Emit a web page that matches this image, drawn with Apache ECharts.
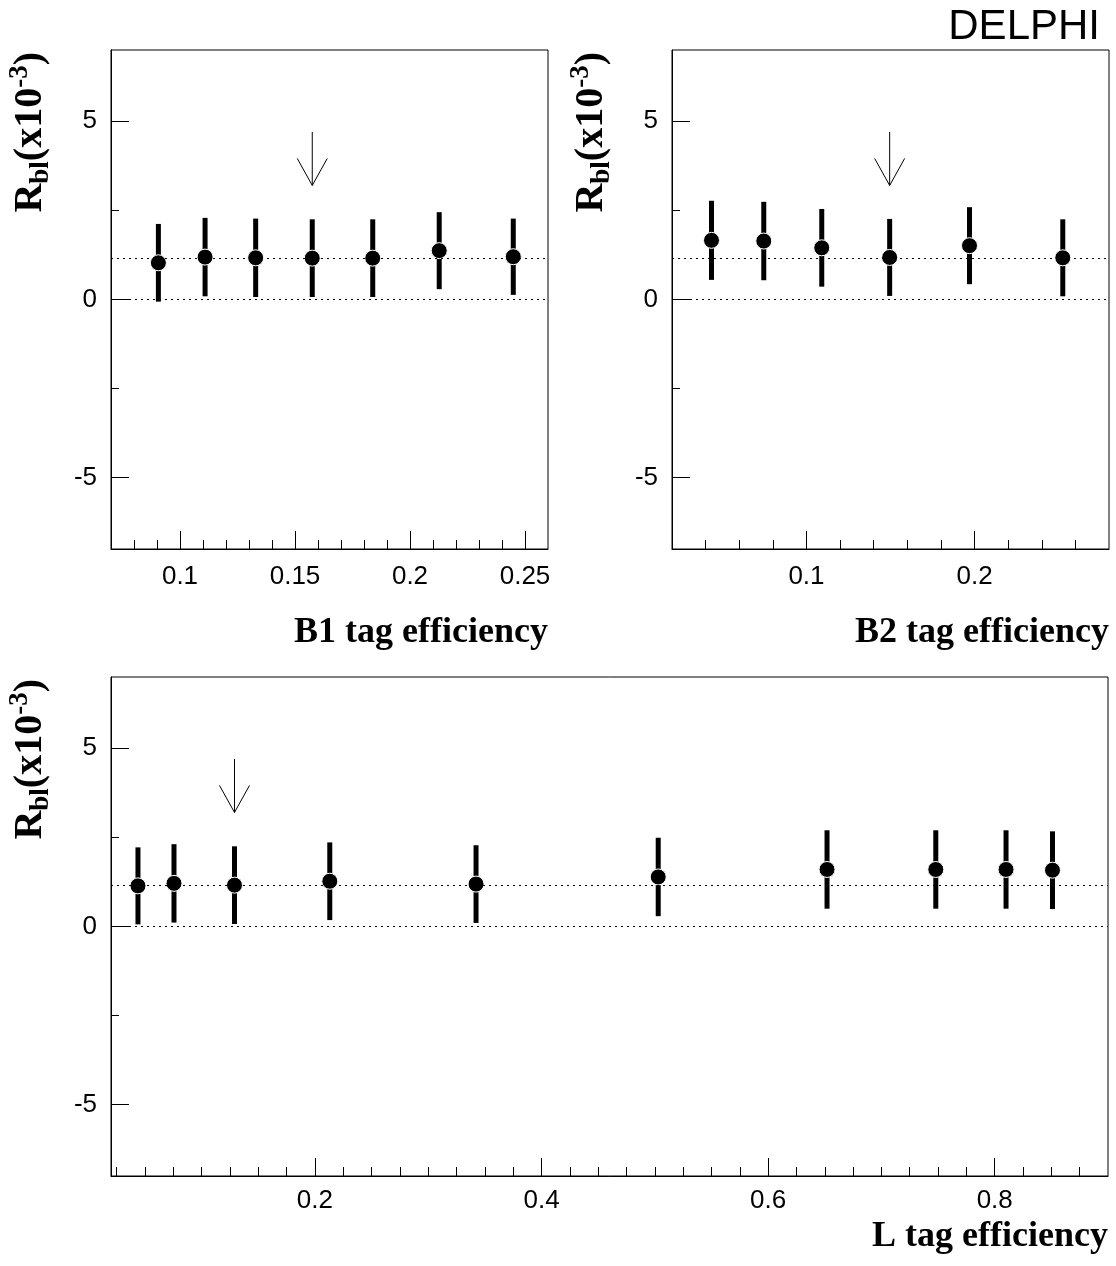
<!DOCTYPE html>
<html>
<head>
<meta charset="utf-8">
<script src="https://cdn.jsdelivr.net/npm/echarts@6/dist/echarts.min.js"></script>
<style>
  html, body { margin: 0; padding: 0; background: #fff; }
  #chart { width: 1116px; height: 1266px; }
</style>
</head>
<body>
<div id="chart"></div>
<script>
// R_bl (x10^-3) versus tag efficiency, one scan per tag type

// B1 tag
const b1Eff = [0.0906, 0.1109, 0.1329, 0.1575, 0.1838, 0.2127, 0.2449];
const b1Rbl = [1.03, 1.19, 1.17, 1.16, 1.16, 1.37, 1.20];
const b1Err = [1.09, 1.10, 1.10, 1.09, 1.09, 1.08, 1.07];
const b1WorkingPoint = 3;

// B2 tag
const b2Eff = [0.0435, 0.0746, 0.1091, 0.1495, 0.1970, 0.2525];
const b2Rbl = [1.66, 1.64, 1.45, 1.18, 1.51, 1.17];
const b2Err = [1.11, 1.10, 1.09, 1.08, 1.08, 1.08];
const b2WorkingPoint = 3;

// L tag
const lEff = [0.0438, 0.0756, 0.1290, 0.2131, 0.3422, 0.5030, 0.6520, 0.7480, 0.8100, 0.8510];
const lRbl = [1.14, 1.21, 1.16, 1.27, 1.19, 1.39, 1.60, 1.60, 1.60, 1.58];
const lErr = [1.08, 1.10, 1.09, 1.09, 1.09, 1.10, 1.10, 1.10, 1.10, 1.09];
const lWorkingPoint = 2;

// measured value (upper dotted line) and the working-point arrow span
const rblMeasured = 1.16;
const arrowTop = 4.7;
const arrowTip = 3.2;

// axis ticks
const yMajorTicks = [-5, 0, 5];
const yMinorTicks = [-2.5, 2.5];
const b1MajorTicks = [0.1, 0.15, 0.2, 0.25];
const b1MinorTicks = [0.08, 0.09, 0.11, 0.12, 0.13, 0.14, 0.16, 0.17, 0.18, 0.19,
                      0.21, 0.22, 0.23, 0.24];
const b2MajorTicks = [0.1, 0.2];
const b2MinorTicks = [0.04, 0.06, 0.08, 0.12, 0.14, 0.16, 0.18, 0.22, 0.24, 0.26];
const lMajorTicks = [0.2, 0.4, 0.6, 0.8];
const lMinorTicks = [0.025, 0.05, 0.075, 0.1, 0.125, 0.15, 0.175,
                     0.225, 0.25, 0.275, 0.3, 0.325, 0.35, 0.375,
                     0.425, 0.45, 0.475, 0.5, 0.525, 0.55, 0.575,
                     0.625, 0.65, 0.675, 0.7, 0.725, 0.75, 0.775,
                     0.825, 0.85, 0.875];

const SANS = 'Liberation Sans, Arial, Helvetica, sans-serif';
const SERIF = 'Liberation Serif, Times New Roman, serif';

const grids = [];
const xAxes = [];
const yAxes = [];
const series = [];
const graphics = [];

function addPanel(idx, rect, xRange, xMajor, xMinor, xName, eff, rbl, err, wp, layout) {
  grids.push(Object.assign({
    show: true, borderColor: '#000', borderWidth: 1, backgroundColor: 'transparent',
    containLabel: false, outerBoundsMode: 'none'
  }, rect));

  // major x axis with labels
  xAxes.push({
    type: 'value', gridIndex: idx, position: 'bottom',
    min: xRange[0], max: xRange[1],
    axisLine: { show: true, onZero: false, lineStyle: { color: '#000', width: 1 } },
    axisTick: { show: true, inside: true, length: 18, customValues: xMajor,
                lineStyle: { color: '#000', width: 1 } },
    axisLabel: { show: true, customValues: xMajor, margin: layout.labelMargin, fontSize: 26,
                 fontFamily: SANS, color: '#000', formatter: v => String(v) },
    splitLine: { show: false },
    name: xName, nameLocation: 'end', nameGap: 0,
    nameTextStyle: { fontFamily: SERIF, fontWeight: 'bold', fontSize: 36, color: '#000',
                     align: 'right', verticalAlign: 'top', padding: [layout.namePad, 0, 0, 0] }
  });
  // minor x ticks
  xAxes.push({
    type: 'value', gridIndex: idx, position: 'bottom',
    min: xRange[0], max: xRange[1],
    axisLine: { show: false, onZero: false },
    axisTick: { show: true, inside: true, length: 9, customValues: xMinor,
                lineStyle: { color: '#000', width: 1 } },
    axisLabel: { show: false },
    splitLine: { show: false }
  });
  // major y axis with labels
  yAxes.push({
    type: 'value', gridIndex: idx, position: 'left', min: -7, max: 7,
    axisLine: { show: true, onZero: false, lineStyle: { color: '#000', width: 1 } },
    axisTick: { show: true, inside: true, length: 18, customValues: yMajorTicks,
                lineStyle: { color: '#000', width: 1 } },
    axisLabel: { show: true, customValues: yMajorTicks, margin: 14, fontSize: 26,
                 fontFamily: SANS, color: '#000', formatter: v => String(v) },
    splitLine: { show: false }
  });
  // minor y ticks
  yAxes.push({
    type: 'value', gridIndex: idx, position: 'left', min: -7, max: 7,
    axisLine: { show: false, onZero: false },
    axisTick: { show: true, inside: true, length: 8, customValues: yMinorTicks,
                lineStyle: { color: '#000', width: 1 } },
    axisLabel: { show: false },
    splitLine: { show: false }
  });

  const xi = idx * 2, yi = idx * 2;

  // error bars
  series.push({
    type: 'custom', xAxisIndex: xi, yAxisIndex: yi, z: 2, silent: true,
    encode: { x: 0, y: 1 },
    data: eff.map((x, k) => [x, rbl[k], err[k]]),
    renderItem: function (params, api) {
      const x = api.value(0), y = api.value(1), e = api.value(2);
      const lo = api.coord([x, y - e]);
      const hi = api.coord([x, y + e]);
      return {
        type: 'line',
        shape: { x1: lo[0], y1: lo[1], x2: hi[0], y2: hi[1] },
        style: { stroke: '#000', lineWidth: 5, lineCap: 'butt' }
      };
    }
  });

  // central values + reference lines at 0 and at the measured value
  series.push({
    type: 'scatter', xAxisIndex: xi, yAxisIndex: yi, z: 3, silent: true,
    symbol: 'circle', symbolSize: 16,
    itemStyle: { color: '#000', borderColor: '#fff', borderWidth: 1, opacity: 1 },
    data: eff.map((x, k) => [x, rbl[k]]),
    markLine: {
      silent: true, symbol: 'none', animation: false,
      label: { show: false },
      lineStyle: { color: '#000', width: 1, type: [2, 4] },
      data: [{ yAxis: 0 }, { yAxis: rblMeasured }]
    }
  });

  // arrow marking the working point
  series.push({
    type: 'custom', xAxisIndex: xi, yAxisIndex: yi, z: 2, silent: true,
    encode: { x: 0, y: 1 },
    data: [[eff[wp], arrowTop, arrowTip]],
    renderItem: function (params, api) {
      const x = api.value(0);
      const top = api.coord([x, api.value(1)]);
      const tip = api.coord([x, api.value(2)]);
      const w = 15, h = 27;
      return {
        type: 'group',
        children: [
          { type: 'line', shape: { x1: top[0], y1: top[1], x2: tip[0], y2: tip[1] },
            style: { stroke: '#000', lineWidth: 1 } },
          { type: 'polyline',
            shape: { points: [[tip[0] - w, tip[1] - h], [tip[0], tip[1]], [tip[0] + w, tip[1] - h]] },
            style: { stroke: '#000', lineWidth: 1, fill: null } }
        ]
      };
    }
  });

  // vertical y-axis title
  graphics.push({
    type: 'text',
    x: rect.left - 56, y: rect.top + 2,
    rotation: Math.PI / 2,
    style: {
      text: '{m|R}{sub|bl}{m|(x10}{sup|-3}{m|)}',
      align: 'right', verticalAlign: 'bottom',
      fill: '#000',
      rich: {
        m: { fontFamily: SERIF, fontWeight: 'bold', fontSize: 40, lineHeight: 48, fill: '#000' },
        sub: { fontFamily: SERIF, fontWeight: 'bold', fontSize: 27, lineHeight: 27,
               verticalAlign: 'bottom', fill: '#000' },
        sup: { fontFamily: SERIF, fontWeight: 'bold', fontSize: 27, lineHeight: 27,
               verticalAlign: 'top', fill: '#000' }
      }
    }
  });
}

addPanel(0, { left: 111, top: 50, width: 437, height: 499 }, [0.07, 0.26],
         b1MajorTicks, b1MinorTicks, 'B1 tag efficiency', b1Eff, b1Rbl, b1Err, b1WorkingPoint,
         { labelMargin: 15, namePad: 66 });
addPanel(1, { left: 672, top: 50, width: 437, height: 499 }, [0.02, 0.28],
         b2MajorTicks, b2MinorTicks, 'B2 tag efficiency', b2Eff, b2Rbl, b2Err, b2WorkingPoint,
         { labelMargin: 15, namePad: 66 });
addPanel(2, { left: 111, top: 677, width: 997, height: 499 }, [0.02, 0.9],
         lMajorTicks, lMinorTicks, 'L tag efficiency', lEff, lRbl, lErr, lWorkingPoint,
         { labelMargin: 12, namePad: 43 });

const chart = echarts.init(document.getElementById('chart'), null, { renderer: 'canvas' });
chart.setOption({
  animation: false,
  backgroundColor: '#fff',
  title: {
    text: 'DELPHI', right: 11, top: 1,
    textStyle: { fontFamily: SANS, fontWeight: 'normal', fontSize: 42, color: '#000' }
  },
  grid: grids,
  xAxis: xAxes,
  yAxis: yAxes,
  series: series,
  graphic: graphics
});
</script>
</body>
</html>
